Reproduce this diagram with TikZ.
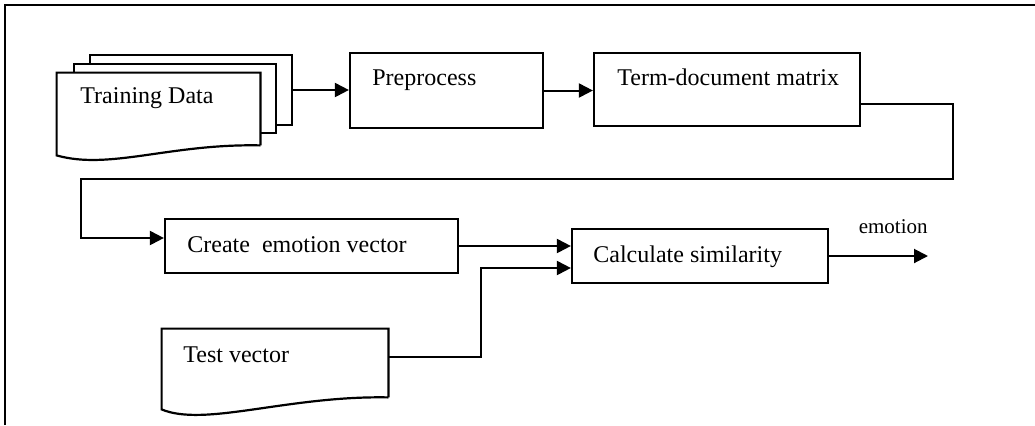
\documentclass[tikz,border=0pt]{standalone}
\usepackage{fontspec}
\setmainfont{Liberation Serif}
\usetikzlibrary{arrows.meta,positioning}

\begin{document}
\begin{tikzpicture}[x=0.5pt, y=-0.5pt,
    box/.style={rectangle, draw, line width=1.1pt, inner sep=0pt},
    page/.style={rectangle, draw, line width=1.1pt, fill=white, inner sep=0pt},
    txt/.style={anchor=base west, inner sep=0pt, font=\fontsize{12pt}{14pt}\selectfont},
    small/.style={anchor=base east, inner sep=0pt, font=\fontsize{10.5pt}{12pt}\selectfont},
    arr/.style={line width=1pt, -{Triangle[length=7pt, width=7pt]}}]
    \useasboundingbox (0,0) rectangle (1035,425);
    % frame
    \draw[line width=1.2pt] (5,425) -- (5,5) -- (1035,5);

    % training data (stack of documents)
    \node[page, minimum width=101pt, minimum height=35pt] (train3) at (191,90) {};
    \node[page, minimum width=101pt, minimum height=34.5pt] (train2) at (175,98.5) {};
    \node[minimum width=101.5pt, minimum height=36pt, inner sep=0pt] (train) at (158.5,109) {};
    \draw[page] (train.south east) -- (train.north east) -- (train.north west) -- ([shift={(0,10)}]train.south west)
        .. controls ([shift={(53,25)}]train.south west) and ([shift={(-90,-2)}]train.south east) .. (train.south east);
    \node[txt] (traintxt) at (80,103) {Training Data};

    % boxes
    \node[box, minimum width=96.5pt, minimum height=37.5pt] (pre) at (446.5,90.5) {};
    \node[txt] (pretxt) at (372,85) {Preprocess};
    \node[box, minimum width=133pt, minimum height=36.5pt] (term) at (727,89.5) {};
    \node[txt] (termtxt) at (617,85) {Term-document matrix};
    \node[box, minimum width=146.5pt, minimum height=27pt] (create) at (311.5,246) {};
    \node[txt] (createtxt) at (187,252) {Create\ \ emotion vector};
    \node[box, minimum width=128pt, minimum height=27pt] (calc) at (700,256) {};
    \node[txt] (calctxt) at (593,262) {Calculate similarity};

    % test vector (document)
    \node[minimum width=113pt, minimum height=34pt, inner sep=0pt] (test) at (275,363) {};
    \draw[page] (test.south east) -- (test.north east) -- (test.north west) -- ([shift={(0,12)}]test.south west)
        .. controls ([shift={(43,30)}]test.south west) and ([shift={(-100,-2)}]test.south east) .. (test.south east);
    \node[txt] (testtxt) at (183,362) {Test vector};

    % connectors
    \coordinate (r1) at (953,179);
    \coordinate (l1) at (81,179);
    \coordinate (bend) at (481,268);
    \coordinate (out) at (928,256);
    \draw[arr] (train3.east) -- (train3.east -| pre.west);
    \draw[arr] (pre.east) -- (pre.east -| term.west);
    \draw[arr] ([shift={(0,14)}]term.east) -| (r1) -- (l1) |- ([shift={(0,-8)}]create.west);
    \draw[arr] (create.east) -- (create.east -| calc.west);
    \draw[arr] ([shift={(0,-6)}]test.east) -| (bend) -- (bend -| calc.west);
    \draw[arr] (calc.east) -- (calc.east -| out);
    \node[small] (emo) at (928,233) {emotion};
\end{tikzpicture}
\end{document}
